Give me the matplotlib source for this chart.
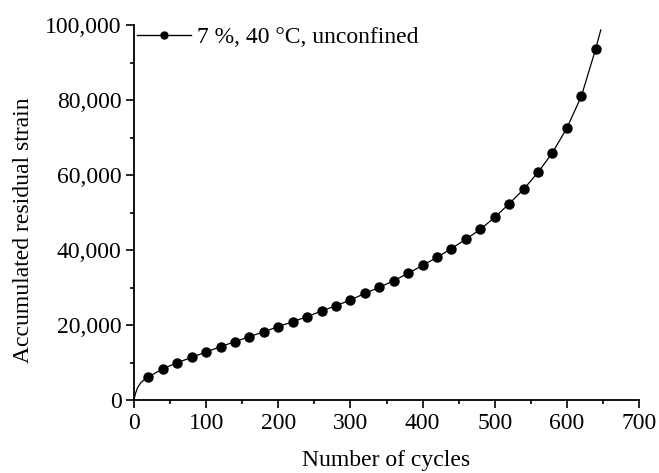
import matplotlib.pyplot as plt
from matplotlib.ticker import FuncFormatter, MultipleLocator

plt.rcParams["font.family"] = ["Liberation Serif", "DejaVu Serif"]

# measured points (every 20 cycles)
cycles = [20, 40, 60, 80, 100, 120, 140, 160, 180, 200, 220, 240, 260, 280,
          300, 320, 340, 360, 380, 400, 420, 440, 460, 480, 500, 520, 540,
          560, 580, 600, 620, 640]
strain = [6130, 8350, 9950, 11380, 12800, 14220, 15560, 16890, 18220, 19560,
          20890, 22220, 23730, 25150, 26670, 28440, 30040, 31820, 33780, 35910,
          38040, 40400, 42880, 45500, 48720, 52350, 56180, 60710, 65950, 72530,
          80980, 93680]

# extra points at both ends
fit_start_x = [0, 2, 5, 9, 14]
fit_start_y = [0, 1700, 3300, 4500, 5400]
fit_end_x = [647]
fit_end_y = [98700]

fs = 17

fig = plt.figure(figsize=(6.59, 4.73), dpi=100)
ax = fig.add_axes([0.2033, 0.1543, 0.7664, 0.7928])

ax.plot(fit_start_x + cycles + fit_end_x, fit_start_y + strain + fit_end_y,
        color="black", lw=0.9, zorder=2)
ax.plot(cycles, strain, "o", color="black", ms=6.5, zorder=3)
# legend handle: line with marker
ax.plot([], [], "-o", color="black", lw=1.0, ms=5, label="7 %, 40 °C, unconfined")

ax.set_xlim(0, 700)
ax.set_ylim(0, 100000)
ax.xaxis.set_major_locator(MultipleLocator(100))
ax.xaxis.set_minor_locator(MultipleLocator(50))
ax.yaxis.set_major_locator(MultipleLocator(20000))
ax.yaxis.set_minor_locator(MultipleLocator(10000))
ax.yaxis.set_major_formatter(FuncFormatter(lambda v, p: f"{int(v):,}"))

for side in ["top", "right"]:
    ax.spines[side].set_visible(False)
for side in ["left", "bottom"]:
    ax.spines[side].set_linewidth(1.3)

ax.tick_params(which="major", direction="out", length=6, width=1.2,
               labelsize=fs, pad=3)
ax.tick_params(which="minor", direction="out", length=3, width=1.2)

ax.set_xlabel("Number of cycles", fontsize=fs, labelpad=12)
ax.set_ylabel("Accumulated residual strain", fontsize=fs, labelpad=8)
ax.yaxis.label.set_y(0.453)

ax.legend(loc="upper left", frameon=False, fontsize=fs, handlelength=2.3,
          handletextpad=0.25, borderaxespad=0.0, borderpad=0.0,
          bbox_to_anchor=(0.006, 0.995))

fig.savefig("out.png", dpi=100)
